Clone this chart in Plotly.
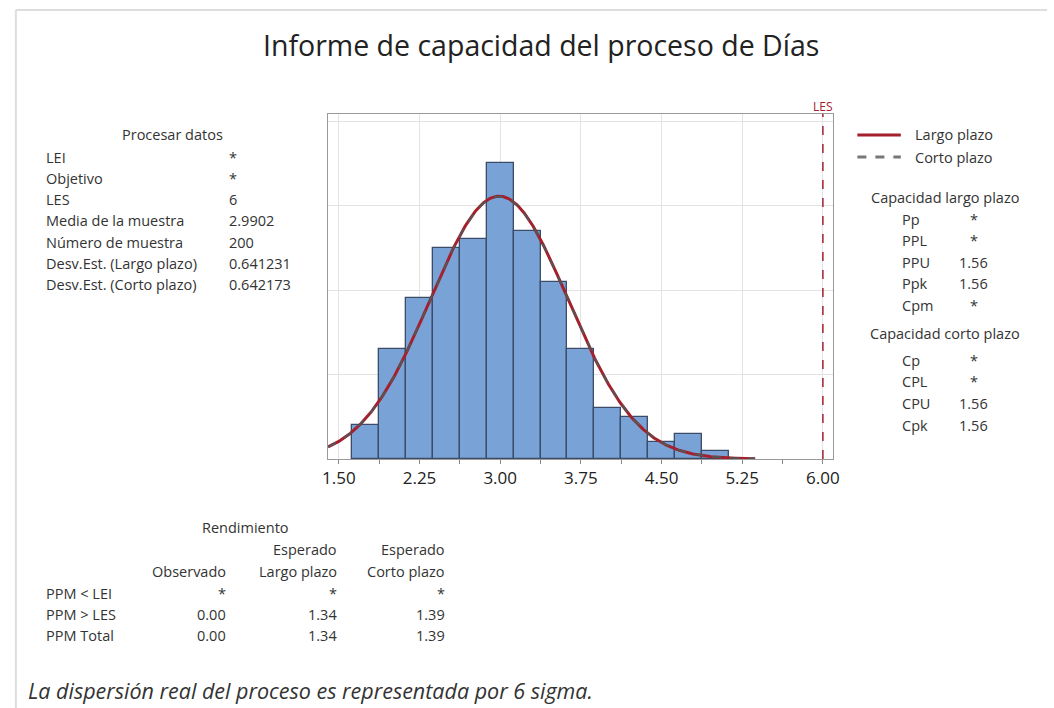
import numpy as np
import plotly.graph_objects as go

# Histogram of "Días" (bin width 0.25)
bin_centers = [1.75, 2.00, 2.25, 2.50, 2.75, 3.00, 3.25, 3.50, 3.75, 4.00, 4.25, 4.50, 4.75, 5.00]
counts = [4, 13, 19, 25, 26, 35, 27, 21, 13, 6, 5, 2, 3, 1]
bin_width = 0.25

# Process data
n_sample = 200
sample_mean = 2.9902
sd_long = 0.641231
sd_short = 0.642173
les = 6

x_tick_vals = [1.50, 2.25, 3.00, 3.75, 4.50, 5.25, 6.00]
x_tick_text = ["1.50", "2.25", "3.00", "3.75", "4.50", "5.25", "6.00"]

process_labels = ["LEI", "Objetivo", "LES", "Media de la muestra", "Número de muestra",
                  "Desv.Est. (Largo plazo)", "Desv.Est. (Corto plazo)"]
process_values = ["*", "*", "6", "2.9902", "200", "0.641231", "0.642173"]

long_labels = ["Pp", "PPL", "PPU", "Ppk", "Cpm"]
long_values = ["*", "*", "1.56", "1.56", "*"]
short_labels = ["Cp", "CPL", "CPU", "Cpk"]
short_values = ["*", "*", "1.56", "1.56"]

ppm_rows = ["PPM < LEI", "PPM > LES", "PPM Total"]
ppm_observed = ["*", "0.00", "0.00"]
ppm_long = ["*", "1.34", "1.34"]
ppm_short = ["*", "1.39", "1.39"]

W, H = 1054, 708
FONT = "Open Sans"
TXT = "#333333"
BODY = 14.5


def px(x):
    return x / W


def py(y):
    return 1 - y / H


def normal_pdf(x, mu, s):
    return np.exp(-0.5 * ((x - mu) / s) ** 2) / (s * np.sqrt(2 * np.pi))


density = np.array(counts) / (n_sample * bin_width)
xc = np.linspace(1.40, 5.37, 400)

fig = go.Figure()
fig.add_trace(go.Bar(
    x=bin_centers, y=density, width=bin_width,
    marker=dict(color="#79a2d6", line=dict(color="#3c4c68", width=1.3)),
    hoverinfo="skip", showlegend=False,
))
fig.add_trace(go.Scatter(
    x=xc, y=normal_pdf(xc, sample_mean, sd_long), mode="lines",
    line=dict(color="#a3202c", width=3), showlegend=False,
))
fig.add_trace(go.Scatter(
    x=xc, y=normal_pdf(xc, sample_mean, sd_short), mode="lines",
    line=dict(color="#555555", width=2, dash="dash"), showlegend=False,
))
fig.add_vline(x=les, line=dict(color="#a3202c", width=1.5, dash="dash"))

ann = []


def text(x, y, s, size=BODY, xanchor="left", color=TXT, **kw):
    ann.append(dict(x=px(x), y=py(y), xref="paper", yref="paper", text=s,
                    showarrow=False, xanchor=xanchor, yanchor="middle",
                    font=dict(family=FONT, size=size, color=color), **kw))


# Title and footnote
text(542, 45, "Informe de capacidad del proceso de Días", size=28.5, xanchor="center", color="#222222")
text(20, 690, "<i>La dispersión real del proceso es representada por 6 sigma.</i>", size=21.5, color="#333333")

# LES label
ann.append(dict(x=les, y=py(106), xref="x", yref="paper", text="LES", showarrow=False,
                xanchor="center", yanchor="middle", font=dict(family=FONT, size=12, color="#a3202c")))

# Process data block
text(169, 135, "Procesar datos", xanchor="center")
for i, (lab, val) in enumerate(zip(process_labels, process_values)):
    y = 157 + i * 21.3
    text(38, y, lab)
    text(224, y, val)

# Legend
fig.add_shape(type="line", xref="paper", yref="paper", x0=px(862), x1=px(906), y0=py(135), y1=py(135),
              line=dict(color="#a3202c", width=3))
fig.add_shape(type="line", xref="paper", yref="paper", x0=px(862), x1=px(906), y0=py(157), y1=py(157),
              line=dict(color="#777777", width=3, dash="dash"))
text(918, 135, "Largo plazo")
text(918, 157, "Corto plazo")

# Capability blocks
text(951, 198, "Capacidad largo plazo", xanchor="center")
for i, (lab, val) in enumerate(zip(long_labels, long_values)):
    y = 219 + i * 21.5
    text(905, y, lab)
    text(980, y, val, xanchor="center")
text(951, 333, "Capacidad corto plazo", xanchor="center")
for i, (lab, val) in enumerate(zip(short_labels, short_values)):
    y = 360 + i * 21.7
    text(905, y, lab)
    text(980, y, val, xanchor="center")

# Performance table
text(242, 527, "Rendimiento", xanchor="center")
text(337, 549, "Esperado", xanchor="right")
text(447, 549, "Esperado", xanchor="right")
text(225, 571, "Observado", xanchor="right")
text(337, 571, "Largo plazo", xanchor="right")
text(447, 571, "Corto plazo", xanchor="right")
for i, lab in enumerate(ppm_rows):
    y = 593 + i * 21
    text(38, y, lab)
    text(225, y, ppm_observed[i], xanchor="right")
    text(337, y, ppm_long[i], xanchor="right")
    text(447, y, ppm_short[i], xanchor="right")

# Outer frame
fig.add_shape(type="line", xref="paper", yref="paper", x0=px(10), x1=1, y0=py(10), y1=py(10),
              line=dict(color="#dddddd", width=2))
fig.add_shape(type="line", xref="paper", yref="paper", x0=px(10), x1=px(10), y0=py(10), y1=0,
              line=dict(color="#dddddd", width=2))

fig.update_layout(
    width=W, height=H,
    margin=dict(l=0, r=0, t=0, b=0),
    paper_bgcolor="white", plot_bgcolor="white",
    annotations=ann,
    bargap=0,
    xaxis=dict(
        domain=[px(326), px(837)],
        range=[1.399, 6.091],
        tickvals=x_tick_vals, ticktext=x_tick_text,
        ticks="outside", ticklen=4, tickcolor="#888888",
        showgrid=True, gridcolor="#e3e3e3", gridwidth=1,
        showline=True, linecolor="#9a9a9a", linewidth=1, mirror=True,
        zeroline=False,
        tickfont=dict(family=FONT, size=17, color="#222222"),
        minor=dict(tickvals=[1.875, 2.625, 3.375, 4.125, 4.875, 5.625], ticks="outside",
                   ticklen=4, tickcolor="#888888", showgrid=False),
    ),
    yaxis=dict(
        domain=[py(459), py(114)],
        range=[0, 0.8167],
        showticklabels=False, ticks="",
        dtick=0.2, showgrid=True, gridcolor="#e3e3e3", gridwidth=1,
        showline=True, linecolor="#9a9a9a", linewidth=1, mirror=True,
        zeroline=False,
    ),
)

fig.write_html("out.html")
